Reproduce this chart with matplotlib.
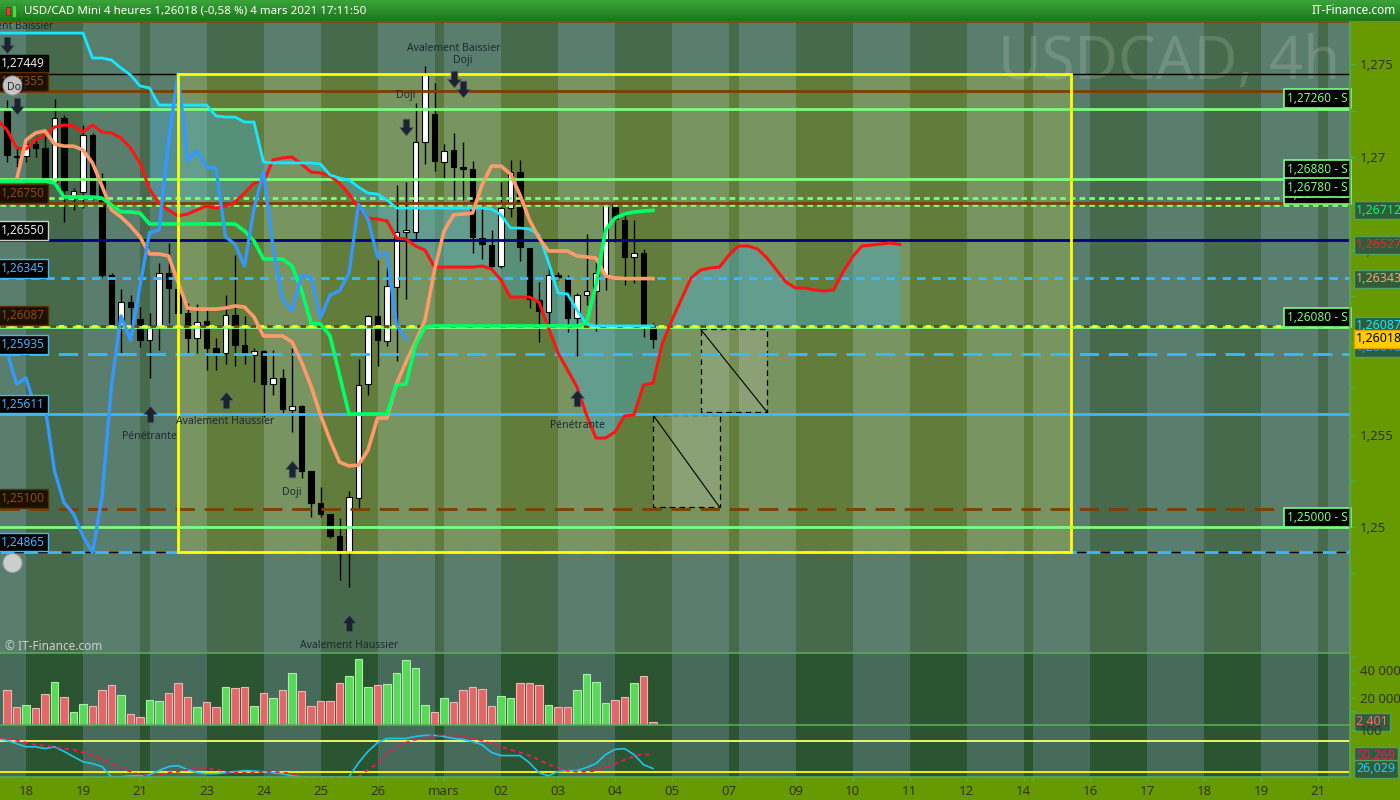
import numpy as np
import matplotlib
matplotlib.use("Agg")
import matplotlib.pyplot as plt
import matplotlib.transforms as mtransforms
from matplotlib.patches import Rectangle, Ellipse
from matplotlib.lines import Line2D
from matplotlib.path import Path
from matplotlib.colors import LinearSegmentedColormap

plt.rcParams["font.family"] = ["Noto Sans", "DejaVu Sans"]
plt.rcParams["lines.scale_dashes"] = False

# ---- data --------------------------------------------------------------
# 4h candles, index 0 = jeudi 18 fevrier 00:00 ; first candle drawn is -2
candle_first = -2
opens = [1.27254, 1.27005, 1.27005, 1.27070, 1.27049, 1.26865, 1.27211, 1.26789, 1.26811, 1.27119,
         1.26876, 1.26362, 1.26081, 1.26216, 1.26124, 1.26011, 1.26087, 1.26373, 1.26287, 1.26157,
         1.26022, 1.26114, 1.25968, 1.25938, 1.26146, 1.25984, 1.25932, 1.25951, 1.25773, 1.25806,
         1.25635, 1.25654, 1.25303, 1.25132, 1.25071, 1.24952, 1.24862, 1.25157, 1.25773, 1.26141,
         1.26005, 1.26297, 1.26592, 1.26595, 1.27081, 1.27232, 1.26973, 1.27038, 1.26948, 1.26935,
         1.26562, 1.26524, 1.26411, 1.26723, 1.26921, 1.26507, 1.26227, 1.26164, 1.26360, 1.26342,
         1.26128, 1.26252, 1.26277, 1.26362, 1.26744, 1.26659, 1.26458, 1.26480, 1.26074]
highs = [1.27308, 1.27054, 1.27108, 1.27108, 1.27130, 1.27313, 1.27227, 1.26832, 1.27173, 1.27130,
         1.26914, 1.26373, 1.26287, 1.26254, 1.26189, 1.26157, 1.26427, 1.26535, 1.26335, 1.26211,
         1.26205, 1.26173, 1.26022, 1.26254, 1.26472, 1.26141, 1.25968, 1.25955, 1.25957, 1.25854,
         1.25968, 1.25660, 1.25303, 1.25216, 1.25071, 1.25049, 1.25195, 1.25908, 1.26146, 1.26443,
         1.26405, 1.26849, 1.26867, 1.27294, 1.27493, 1.27400, 1.27070, 1.27130, 1.27083, 1.26980,
         1.26758, 1.26605, 1.26867, 1.26984, 1.26984, 1.26507, 1.26326, 1.26425, 1.26378, 1.26362,
         1.26263, 1.26584, 1.26434, 1.26750, 1.26758, 1.26704, 1.26659, 1.26501, 1.26104]
lows = [1.26973, 1.26946, 1.26973, 1.27000, 1.26859, 1.26838, 1.26649, 1.26714, 1.26724, 1.26768,
        1.26351, 1.26081, 1.25941, 1.26038, 1.25973, 1.25806, 1.25957, 1.26103, 1.26081, 1.25941,
        1.25941, 1.25849, 1.25849, 1.25881, 1.25870, 1.25881, 1.25786, 1.25596, 1.25711, 1.25616,
        1.25514, 1.25265, 1.25056, 1.25056, 1.24942, 1.24714, 1.24676, 1.25103, 1.25711, 1.25870,
        1.25979, 1.25900, 1.26233, 1.26554, 1.26962, 1.26924, 1.26873, 1.26768, 1.26768, 1.26481,
        1.26449, 1.26407, 1.26398, 1.26677, 1.26440, 1.26182, 1.26002, 1.26065, 1.26335, 1.26056,
        1.25924, 1.26200, 1.26061, 1.26281, 1.26542, 1.26308, 1.26318, 1.26029, 1.25966]
closes = [1.27011, 1.27000, 1.27070, 1.27051, 1.26881, 1.27211, 1.26822, 1.26816, 1.27119, 1.26784,
          1.26362, 1.26092, 1.26216, 1.26189, 1.26011, 1.26076, 1.26373, 1.26292, 1.26157, 1.26022,
          1.26108, 1.25968, 1.25941, 1.26146, 1.25984, 1.25938, 1.25951, 1.25773, 1.25806, 1.25640,
          1.25654, 1.25303, 1.25132, 1.25071, 1.24952, 1.24862, 1.25162, 1.25768, 1.26141, 1.26011,
          1.26303, 1.26592, 1.26605, 1.27081, 1.27449, 1.26981, 1.27032, 1.26948, 1.26937, 1.26569,
          1.26528, 1.26411, 1.26723, 1.26921, 1.26512, 1.26231, 1.26169, 1.26360, 1.26350, 1.26131,
          1.26254, 1.26277, 1.26371, 1.26744, 1.26663, 1.26461, 1.26480, 1.26092, 1.26018]
volumes = [25900, 13100, 14600, 12300, 23000, 31600, 20500, 9600, 15600, 14100,
           25900, 28900, 22000, 8100, 5700, 18500, 17800, 23700, 30400, 20700,
           13100, 17000, 13300, 27900, 26900, 27400, 14100, 23700, 20000, 25900,
           37800, 25200, 14100, 17800, 17800, 30400, 35600, 48100, 28100, 28900,
           29600, 37800, 47200, 41500, 14800, 9600, 20000, 17000, 25900, 27400,
           26400, 14100, 21500, 20000, 30400, 30400, 28900, 14800, 13300, 13300,
           25900, 37000, 31600, 16300, 18500, 20700, 30400, 35600, 2401]

# Ichimoku style lines
red_first = -3
red_line = [1.27200, 1.27146, 1.27049, 1.27043, 1.27092, 1.27119, 1.27162, 1.27173, 1.27168, 1.27135,
            1.27173, 1.27135, 1.27130, 1.27103, 1.27049, 1.26968, 1.26827, 1.26751, 1.26714, 1.26681,
            1.26692, 1.26714, 1.26735, 1.26724, 1.26735, 1.26757, 1.26805, 1.26859, 1.26865, 1.26984,
            1.26995, 1.27000, 1.26962, 1.26919, 1.26914, 1.26897, 1.26859, 1.26800, 1.26724, 1.26670,
            1.26665, 1.26654, 1.26562, 1.26557, 1.26519, 1.26497, 1.26405, 1.26405, 1.26405, 1.26405,
            1.26405, 1.26411, 1.26395, 1.26335, 1.26243, 1.26243, 1.26243, 1.26216, 1.26076, 1.25941,
            1.25849, 1.25757, 1.25606, 1.25481, 1.25481, 1.25514, 1.25600, 1.25606, 1.25768, 1.25778,
            1.25995, 1.26119, 1.26233, 1.26346, 1.26389, 1.26400, 1.26405, 1.26470, 1.26519, 1.26519,
            1.26503, 1.26454, 1.26389, 1.26324, 1.26292, 1.26292, 1.26281, 1.26276, 1.26281, 1.26378,
            1.26460, 1.26519, 1.26524, 1.26530, 1.26535, 1.26527]
cyan_first = -3
cyan_line = [1.27670] * 10 + \
            [1.27535, 1.27535, 1.27524, 1.27481, 1.27443, 1.27384, 1.27373, 1.27281, 1.27281, 1.27281,
             1.27281, 1.27281, 1.27281, 1.27222, 1.27216, 1.27216, 1.27189, 1.27189, 1.26973, 1.26968,
             1.26968, 1.26968, 1.26968, 1.26968, 1.26962, 1.26903, 1.26886, 1.26876, 1.26838, 1.26805,
             1.26800, 1.26768, 1.26724, 1.26724, 1.26724, 1.26724, 1.26724, 1.26724, 1.26724, 1.26724,
             1.26724, 1.26724, 1.26719, 1.26687, 1.26616, 1.26616, 1.26611, 1.26578, 1.26432, 1.26265,
             1.26260, 1.26173, 1.26097, 1.26087, 1.26087, 1.26087, 1.26087, 1.26087, 1.26087, 1.26087]
salmon_first = -1
salmon_line = [1.26876, 1.27092, 1.27130, 1.27141, 1.27070, 1.27059, 1.27059, 1.27038, 1.26968, 1.26843,
               1.26714, 1.26676, 1.26627, 1.26568, 1.26476, 1.26476, 1.26465, 1.26324, 1.26184, 1.26178,
               1.26178, 1.26178, 1.26184, 1.26195, 1.26189, 1.26135, 1.26033, 1.26033, 1.26033, 1.26000,
               1.25892, 1.25762, 1.25606, 1.25470, 1.25351, 1.25330, 1.25335, 1.25416, 1.25589, 1.25589,
               1.25773, 1.25892, 1.26000, 1.26119, 1.26389, 1.26600, 1.26687, 1.26692, 1.26697, 1.26849,
               1.26951, 1.26951, 1.26908, 1.26795, 1.26659, 1.26562, 1.26492, 1.26492, 1.26492, 1.26465,
               1.26460, 1.26454, 1.26357, 1.26346, 1.26343, 1.26343, 1.26343, 1.26343]
green_first = -3
green_line = [1.26870, 1.26870, 1.26870, 1.26870, 1.26870, 1.26870, 1.26859, 1.26784, 1.26784, 1.26784,
              1.26784, 1.26778, 1.26741, 1.26703, 1.26703, 1.26697, 1.26638, 1.26638, 1.26638, 1.26638,
              1.26638, 1.26638, 1.26638, 1.26638, 1.26638, 1.26638, 1.26600, 1.26546, 1.26449, 1.26449,
              1.26449, 1.26411, 1.26281, 1.26103, 1.26097, 1.26033, 1.25822, 1.25611, 1.25611, 1.25611,
              1.25611, 1.25611, 1.25768, 1.25773, 1.25984, 1.26081, 1.26087, 1.26087, 1.26087, 1.26087,
              1.26087, 1.26087, 1.26087, 1.26087, 1.26087, 1.26087, 1.26087, 1.26087, 1.26087, 1.26087,
              1.26087, 1.26087, 1.26103, 1.26308, 1.26605, 1.26670, 1.26692, 1.26703, 1.26708, 1.26712]
chikou_shift = 26
cloud_first = 13
cloud_future_edge = 1.26087

stoch_first = -3
stoch_k = [84, 80, 74, 68, 68, 64.5, 68, 59, 49, 39,
           35.5, 29.7, 10, 10, 12, 12, 14, 22, 29.7, 31.6,
           24, 18, 16, 16, 18, 20, 22, 21, 20, 18,
           16, 12, 10, 10, 10, 10, 10, 10, 37, 59,
           76, 84, 84, 84, 88, 90, 90, 88, 84, 82,
           78, 72, 57, 51, 51, 51, 37, 18, 12, 20,
           22, 22, 28, 35.5, 53, 63, 64.5, 53, 33.5, 26.029]
stoch_d = [86, 84, 80, 76, 72, 70, 68, 64.5, 62.5, 57,
           51, 45, 35.5, 28, 20, 14, 12, 14, 18, 20,
           24, 26, 26, 24, 20, 18, 18, 18, 20, 20,
           18, 16, 12, 10, 10, 10, 10, 10, 10, 24,
           35.5, 55, 68, 76, 82, 86, 90, 90, 90, 88,
           84, 80, 74, 68, 62.5, 57, 51, 43, 33.5, 28,
           22, 20, 20, 22, 28, 35.5, 43, 49, 55, 50.269]

# session starts (candle index) and their date labels
day_starts = [-6, 0, 6, 12, 13, 19, 25, 31, 37, 43, 44, 50, 56, 62, 68, 74, 75,
              81, 87, 93, 99, 105, 106, 112, 118, 124, 130, 136, 137]
day_labels = ["", "18", "19", "21", "", "23", "24", "25", "26", "", "mars", "02", "03", "04",
              "05", "07", "", "09", "10", "11", "12", "14", "", "16", "17", "18", "19", "21", ""]

level_prices = [1.27449, 1.27355, 1.27260, 1.26880, 1.26780, 1.26742, 1.26750, 1.26550,
                1.26345, 1.26080, 1.26087, 1.25935, 1.25611, 1.25100, 1.25000, 1.24865]
level_kinds = ["black", "brown", "sup", "sup", "supdash", "supdash", "brown", "navy",
               "bluedash", "sup", "brownyellow", "bluelong", "blue", "brownlong", "sup", "blueblack"]

left_tags = [(1.27449, "1,27449", "white"), (1.27355, "1,27355", "brown"),
             (1.26750, "1,26750", "brown"), (1.26550, "1,26550", "framed"),
             (1.26345, "1,26345", "blue"), (1.26087, "1,26087", "brown"),
             (1.25935, "1,25935", "blue"), (1.25611, "1,25611", "blue"),
             (1.25100, "1,25100", "brown"), (1.24865, "1,24865", "blue")]
right_s_tags = [(1.27260, "1,27260 - S"), (1.26880, "1,26880 - S"), (1.26742, "1,26740 - S"),
                (1.26780, "1,26780 - S"), (1.26080, "1,26080 - S"), (1.25000, "1,25000 - S")]

patterns = [(-2, 1.27605, 1.27705, "Avalement Baissier", "down"),
            (-1, 1.27276, 1.27373, "Doji", "down"),
            (13, 1.25611, 1.25487, "Pénétrante", "up"),
            (21, 1.25689, 1.25569, "Avalement Haussier", "up"),
            (28, 1.25311, 1.25189, "Doji", "up"),
            (34, 1.24480, 1.24359, "Avalement Haussier", "up"),
            (40, 1.27162, 1.27331, "Doji", "down"),
            (45, 1.27422, 1.27589, "Avalement Baissier", "down"),
            (46, 1.27365, 1.27521, "Doji", "down"),
            (58, 1.25697, 1.25548, "Pénétrante", "up")]

zone = (16, 110, 1.24865, 1.27449)
proj_boxes = [(71, 78, 1.26070, 1.25622), (66, 73, 1.25606, 1.25108)]

# ---- figure ------------------------------------------------------------
fig = plt.figure(figsize=(14, 8), dpi=100, facecolor="#679a00")


def fx(px):
    return px / 1400.0


def fy(py):
    return 1 - py / 800.0


X0, X1 = -26 / 9.5, (1350 - 26) / 9.5
ax = fig.add_axes([0, fy(653), fx(1350), (653 - 22) / 800])
axv = fig.add_axes([0, fy(725), fx(1350), 72 / 800])
axs = fig.add_axes([0, fy(777), fx(1350), 52 / 800])
for a in (ax, axv, axs):
    a.set_xlim(X0, X1)
    for s in a.spines.values():
        s.set_visible(False)
ax.set_ylim(1.243191, 1.277297)
axv.set_ylim(0, 52600)
axs.set_ylim(9.7, 110)

# session bands
edges = day_starts + [X1 + 5]
for k in range(len(day_starts)):
    a0, a1 = edges[k], edges[k + 1]
    light = k % 2 == 0
    ax.axvspan(a0, a1, color="#5a7e6e" if light else "#466a4b", lw=0, zorder=0)
    axv.axvspan(a0, a1, color="#466b5a" if light else "#2b5530", lw=0, zorder=0)
    axs.axvspan(a0, a1, color="#466b5a" if light else "#2b5530", lw=0, zorder=0)
    lo, hi = max(a0, zone[0]), min(a1, zone[1])
    if hi > lo:
        ax.add_patch(Rectangle((lo, zone[2]), hi - lo, zone[3] - zone[2],
                               color="#789460" if light else "#627d3b", lw=0, zorder=0.5))
ax.add_patch(Rectangle((zone[0], zone[2]), zone[1] - zone[0], zone[3] - zone[2],
                       fill=False, ec="#ffff00", lw=2, zorder=6))

# watermark
ax.text(0.993, 0.935, "USDCAD, 4h", transform=ax.transAxes, ha="right", va="center",
        fontsize=43, color="white", alpha=0.14, zorder=0.8)

# cloud
rl = np.array(red_line)
cl = np.array(cyan_line)
xc = np.arange(cloud_first, 67)
ax.fill_between(xc, cl[cloud_first - cyan_first:67 - cyan_first],
                rl[cloud_first - red_first:67 - red_first],
                color="#49a8c4", alpha=0.45, lw=0, zorder=1)
xf = np.arange(66, red_first + len(red_line))
ax.fill_between(xf, cloud_future_edge, rl[66 - red_first:],
                color="#49a8c4", alpha=0.45, lw=0, zorder=1)

# projection boxes
for b0, b1, ptop, pbot in proj_boxes:
    ax.add_patch(Rectangle((b0, pbot), b1 - b0, ptop - pbot, fc="white", alpha=0.13, lw=0, zorder=2))
    ax.plot([b0, b1, b1, b0, b0], [ptop, ptop, pbot, pbot, ptop], color="black",
            ls=(0, (4, 3)), lw=0.9, zorder=4)
    ax.plot([b0, b1], [ptop, pbot], color="black", lw=0.8, zorder=4)

# candles
xi = np.arange(candle_first, candle_first + len(opens))
o, h, l, c = map(np.array, (opens, highs, lows, closes))
up = c >= o
ax.vlines(xi, l, h, color="black", lw=1, zorder=3)
body = np.maximum(np.abs(c - o), 0.00007)
ax.bar(xi, body, bottom=np.minimum(o, c), width=0.6,
       color=np.where(up, "white", "black"), edgecolor="black", lw=0.8, zorder=3.1)

# horizontal levels
styles = {
    "black": [dict(color="black", lw=1)],
    "brown": [dict(color="#7d3f00", lw=2)],
    "sup": [dict(color="#7dfc7d", lw=2)],
    "supdash": [dict(color="#7dfc7d", lw=2, ls=(0, (4, 3)))],
    "navy": [dict(color="#000080", lw=2)],
    "bluedash": [dict(color="#3db8ff", lw=2, ls=(0, (6, 5)))],
    "brownyellow": [dict(color="#7d3f00", lw=2, ls=(0, (4, 8))),
                    dict(color="#ffff00", lw=2, ls=(6, (4, 8)))],
    "bluelong": [dict(color="#3db8ff", lw=2, ls=(0, (14, 7)))],
    "blue": [dict(color="#3db8ff", lw=2)],
    "brownlong": [dict(color="#7d3f00", lw=2, ls=(0, (14, 7)))],
    "blueblack": [dict(color="black", lw=1), dict(color="#3db8ff", lw=2, ls=(0, (10, 7)))],
}
for p, kind in zip(level_prices, level_kinds):
    for st in styles[kind]:
        ax.axhline(p, zorder=4, **st)

# indicator lines
ax.plot(np.arange(red_first, red_first + len(red_line)), red_line, color="#ff1414", lw=2.2, zorder=5)
ax.plot(np.arange(cyan_first, cyan_first + len(cyan_line)), cyan_line, color="#19e6ff", lw=2, zorder=5)
ax.plot(np.arange(salmon_first, salmon_first + len(salmon_line)), salmon_line, color="#ff9a6a", lw=2.6, zorder=5)
ax.plot(np.arange(green_first, green_first + len(green_line)), green_line, color="#00ff66", lw=2.6, zorder=5)
chikou = closes[-3 + chikou_shift - candle_first:]
ax.plot(np.arange(-3, -3 + len(chikou)), chikou, color="#3399ff", lw=2.4, zorder=5)

# pattern markers
arrow_up = Path([(-0.2, -0.5), (0.2, -0.5), (0.2, 0.0), (0.42, 0.0), (0, 0.5),
                 (-0.42, 0.0), (-0.2, 0.0), (-0.2, -0.5)], closed=True)
arrow_dn = Path([(x, -y) for x, y in arrow_up.vertices], closed=True)
for idx, pa, pt, lab, d in patterns:
    ax.plot(idx, pa, marker=arrow_up if d == "up" else arrow_dn, ms=12, color="#1b2230",
            mec="#56616c", mew=0.5, zorder=8)
    ax.text(idx, pt, lab, ha="center", va="center", fontsize=7.5, color="#1e2735", zorder=10)

# left price tags
tag_cols = {"white": ("#e8e8e8", "black", "black"), "framed": ("#e8e8e8", "black", "#d0d0d0"),
            "brown": ("#8d4d12", "#1c1000", "#5a3000"), "blue": ("#3fb8ff", "black", "#3fb8ff")}
up_tr = mtransforms.offset_copy(ax.transData, fig=fig, y=2.5, units="points")
for p, txt, kind in left_tags:
    fg, bg, ec = tag_cols[kind]
    ax.text(-2.62, p, txt, transform=up_tr, ha="left", va="bottom", fontsize=8.5, color=fg, zorder=9,
            bbox=dict(boxstyle="square,pad=0.25", fc=bg, ec=ec, lw=1))

rs_tr = mtransforms.offset_copy(mtransforms.blended_transform_factory(ax.transAxes, ax.transData),
                                fig=fig, x=-1.5, y=2.5, units="points")
for p, txt in right_s_tags:
    ax.text(1.0, p, txt, transform=rs_tr, ha="right", va="bottom", fontsize=8.5, color="#7dfc7d",
            zorder=9, bbox=dict(boxstyle="square,pad=0.25", fc="black", ec="#7dfc7d", lw=1.2))

# alert icons (bell)
for cx, cy in ((12.5, 563), (12.5, 85.5)):
    ax.add_patch(Ellipse((fx(cx), fy(cy)), 19 / 1400, 19 / 800, transform=fig.transFigure,
                         fc="#d8d8d8", ec="#9a9a9a", lw=0.8, alpha=0.9, zorder=9.5))


# right axes
def right_axis(a, ticks, labels, minor):
    a.yaxis.tick_right()
    a.set_yticks(ticks)
    a.set_yticklabels(labels)
    a.set_yticks(minor, minor=True)
    a.tick_params(axis="y", which="both", colors="#4fae4f", labelcolor="#333322",
                  labelsize=9.5, length=4, width=1, pad=3)
    a.tick_params(axis="x", bottom=False, labelbottom=False)


# "1,26" sits fully under the live price tags, so its label is left blank
right_axis(ax, [1.25, 1.255, 1.26, 1.265, 1.27, 1.275],
           ["1,25", "1,255", "", "1,265", "1,27", "1,275"], np.arange(1.2475, 1.277, 0.0025))
right_axis(axv, [20000, 40000], ["20 000", "40 000"], [10000, 30000, 50000])
right_axis(axs, [100], ["100"], [])
axs.tick_params(axis="x", bottom=True, labelbottom=True, colors="#4fae4f",
                labelcolor="#333322", labelsize=9.5, length=3, pad=3)
axs.set_xticks(day_starts)
axs.set_xticklabels(day_labels)
axs.set_xlim(X0, X1)


def axis_tag(a, val, txt, fg, bg="#2f5d3c", ec="#4fa060"):
    tr = mtransforms.blended_transform_factory(a.transAxes, a.transData)
    a.text(1.0045, val, txt, transform=tr, ha="left", va="center", fontsize=9, color=fg,
           zorder=10, clip_on=False, bbox=dict(boxstyle="square,pad=0.2", fc=bg, ec=ec, lw=1))


axis_tag(ax, 1.26712, "1,26712", "#00ff66")
axis_tag(ax, 1.26527, "1,26527", "#ff2020")
axis_tag(ax, 1.26343, "1,26343", "#ff9a6a")
axis_tag(ax, 1.25970, "1,26018", "#3399ff")
axis_tag(ax, 1.26087, "1,26087", "#19e6ff")
axis_tag(ax, 1.26018, "1,26018", "black", bg="#ffcc00", ec="#e0a000")

# volume
vx = np.arange(candle_first, candle_first + len(volumes))
axv.bar(vx, volumes, width=0.75, color=np.where(up, "#5ad85a", "#e06868"),
        edgecolor=np.where(up, "#a8f0a8", "#f4b4b4"), lw=0.8, zorder=3)
axis_tag(axv, 2401, "2 401", "#ff6a6a")

# stochastic
axs.axhline(80, color="#ffff66", lw=1.3, zorder=2)
axs.axhline(20, color="#ffff00", lw=1.3, zorder=2)
sx = np.arange(stoch_first, stoch_first + len(stoch_k))
axs.plot(sx, stoch_k, color="#22c4ee", lw=1.2, zorder=3)
axs.plot(sx, stoch_d, color="#ff1060", lw=1.3, ls=(0, (3, 3)), zorder=3)
axis_tag(axs, 50.269, "50,269", "#ff1060")
axis_tag(axs, 26.029, "26,029", "#22ccff")

# panel separators
for py in (22, 653, 725, 777):
    fig.add_artist(Line2D([0, fx(1350)], [fy(py)] * 2, transform=fig.transFigure,
                          color="#7a4a10" if py == 22 else "#5aa85a", lw=1.2))
fig.add_artist(Line2D([fx(1350)] * 2, [fy(22), fy(777)], transform=fig.transFigure,
                      color="#5aa85a", lw=1.2))

# header bar
axh = fig.add_axes([0, fy(21), 1, 21 / 800])
grad = np.linspace(0, 1, 32).reshape(-1, 1)
hcm = LinearSegmentedColormap.from_list("hdr", ["#3aa43a", "#1c761c"])
axh.imshow(grad, aspect="auto", cmap=hcm, extent=[0, 1, 0, 1])
axh.axis("off")
fig.text(fx(24), fy(11), "USD/CAD Mini 4 heures 1,26018 (-0,58 %) 4 mars 2021 17:11:50",
         ha="left", va="center", fontsize=8.3, color="white")
fig.text(fx(1396), fy(11), "IT-Finance.com", ha="right", va="center", fontsize=8.5, color="white")
fig.add_artist(Rectangle((fx(6), fy(15)), fx(4), 8 / 800, transform=fig.transFigure,
                         fc="#e04040", ec="#802020", lw=0.5))
fig.add_artist(Rectangle((fx(12), fy(17)), fx(4), 12 / 800, transform=fig.transFigure,
                         fc="#40e040", ec="#208020", lw=0.5))

# copyright
fig.text(fx(5), fy(647), "© IT-Finance.com", ha="left", va="center", fontsize=8.5, color="#c9d2c9")

fig.savefig("out.png", dpi=100, facecolor=fig.get_facecolor())
